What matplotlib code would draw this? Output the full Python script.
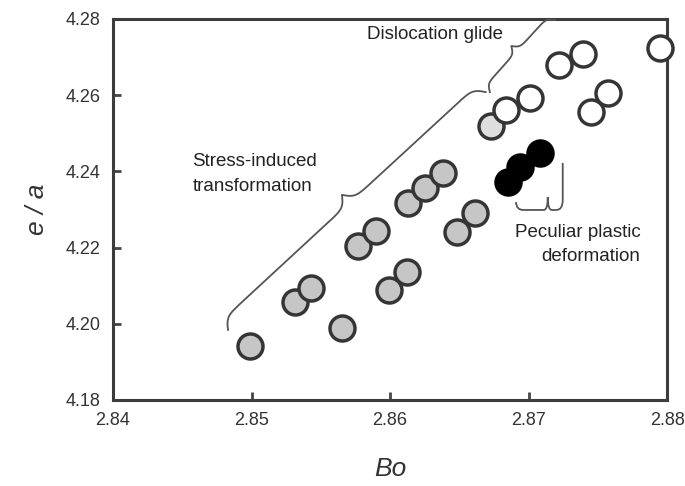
import numpy as np
import matplotlib
matplotlib.use('Agg')
import matplotlib.pyplot as plt
from matplotlib.path import Path
from matplotlib.patches import PathPatch

plt.rcParams['font.family'] = ['Liberation Sans', 'DejaVu Sans']

# alloys grouped by deformation mode (Bo, e/a)
sim_bo = [2.8499, 2.8531, 2.8543, 2.8565, 2.8577, 2.8590, 2.8599,
          2.8612, 2.8613, 2.8625, 2.8638, 2.8648, 2.8661]
sim_ea = [4.1942, 4.2057, 4.2094, 4.1989, 4.2204, 4.2244, 4.2089,
          4.2136, 4.2317, 4.2356, 4.2396, 4.2241, 4.2291]
mixed_bo = [2.8673]
mixed_ea = [4.2519]
slip_bo = [2.8684, 2.8701, 2.8722, 2.8739, 2.8745, 2.8757, 2.8795]
slip_ea = [4.2561, 4.2593, 4.2679, 4.2708, 4.2556, 4.2606, 4.2724]
ppd_bo = [2.8685, 2.8694, 2.8708]
ppd_ea = [4.2372, 4.2412, 4.2448]

xticks = [2.84, 2.85, 2.86, 2.87, 2.88]
yticks = [4.18, 4.20, 4.22, 4.24, 4.26, 4.28]

fig = plt.figure(figsize=(6.85, 4.86), dpi=100)
ax = fig.add_axes([0.165, 0.177, 0.809, 0.784])
ax.set_xlim(2.84, 2.88)
ax.set_ylim(4.18, 4.28)

edge = '#353535'
mk = dict(linestyle='none', marker='o', markersize=18, markeredgewidth=2.5,
          clip_on=False, zorder=5)
ax.plot(sim_bo, sim_ea, markerfacecolor='#c6c6c6', markeredgecolor=edge, **mk)
ax.plot(mixed_bo, mixed_ea, markerfacecolor='#dedede', markeredgecolor=edge, **mk)
ax.plot(slip_bo, slip_ea, markerfacecolor='white', markeredgecolor=edge, **mk)
ax.plot(ppd_bo, ppd_ea, markerfacecolor='black', markeredgecolor='black', **mk)


def brace(ax, p0, p1, height, beta=0.25, **kw):
    """Curly brace between two data points, bulging `height` px to the left of p0->p1."""
    a = ax.transData.transform(p0)
    b = ax.transData.transform(p1)
    d = b - a
    length = np.hypot(*d)
    u = d / length
    n = np.array([-u[1], u[0]])
    half = np.linspace(0, length / 2, 200)
    yh = 1 / (1 + np.exp(-beta * (half - half[0]))) + 1 / (1 + np.exp(-beta * (half - half[-1])))
    s = np.concatenate((half, length - half[-2::-1]))
    y = np.concatenate((yh, yh[-2::-1]))
    y = (y - y.min()) / (y.max() - y.min()) * height
    pts = a + np.outer(s, u) + np.outer(y, n)
    xy = ax.transData.inverted().transform(pts)
    ax.plot(xy[:, 0], xy[:, 1], clip_on=False, **kw)


brace_kw = dict(color='#555555', lw=1.3, zorder=3)
brace(ax, (2.8483, 4.1984), (2.8669, 4.2608), 22, **brace_kw)
brace(ax, (2.8672, 4.2608), (2.8719, 4.2797), 15, beta=0.4, **brace_kw)

# bracket under the black points
verts = [(2.86908, 4.23197), (2.86912, 4.22987), (2.86960, 4.22987),
         (2.87110, 4.22987),
         (2.87138, 4.22987), (2.87138, 4.23328),
         (2.87138, 4.22987), (2.87167, 4.22987),
         (2.87200, 4.22987),
         (2.87246, 4.22987), (2.87246, 4.23249),
         (2.87246, 4.24220)]
codes = [Path.MOVETO, Path.CURVE3, Path.CURVE3, Path.LINETO,
         Path.CURVE3, Path.CURVE3, Path.CURVE3, Path.CURVE3,
         Path.LINETO, Path.CURVE3, Path.CURVE3, Path.LINETO]
ax.add_patch(PathPatch(Path(verts, codes), fill=False, edgecolor='#555555',
                       lw=1.3, zorder=3))

txt = dict(fontsize=13.5, color='#222222', linespacing=1.6)
ax.text(2.86323, 4.2758, 'Dislocation glide', ha='center', va='center', **txt)
ax.text(2.84574, 4.2393, 'Stress-induced\ntransformation', ha='left', va='center',
        multialignment='left', **txt)
ax.text(2.87806, 4.2208, 'Peculiar plastic\ndeformation', ha='right', va='center',
        multialignment='right', **txt)

ax.set_xticks(xticks)
ax.set_xticklabels([f'{v:.2f}' for v in xticks])
ax.set_yticks(yticks)
ax.set_yticklabels([f'{v:.2f}' for v in yticks])
ax.tick_params(direction='in', length=6, width=2, color='#444444',
               labelsize=13, labelcolor='#333333', pad=9)
for sp in ax.spines.values():
    sp.set_linewidth(2.2)
    sp.set_color('#3c3c3c')

ax.set_xlabel('Bo', fontsize=19, style='italic', color='#333333', labelpad=20)
ax.set_ylabel('e / a', fontsize=19, style='italic', color='#333333', labelpad=12)

fig.savefig('out.png', dpi=100)
